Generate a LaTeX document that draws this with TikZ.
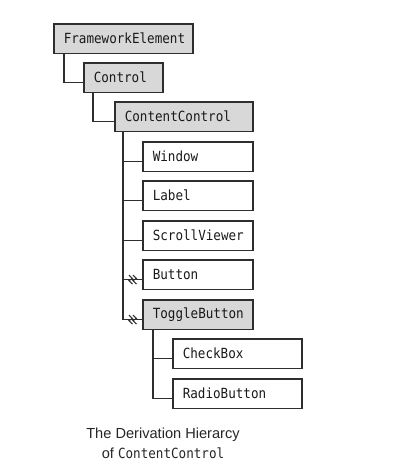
\documentclass[tikz,border=0pt]{standalone}
\usepackage{fontspec}
\setmainfont{Liberation Sans}
\newfontfamily\boxmono{DejaVu Sans Mono}[FakeStretch=0.9]
\definecolor{boxfill}{HTML}{D8D8D8}
\definecolor{linec}{HTML}{2E2E2E}
\begin{document}
\begin{tikzpicture}[x=1pt,y=-1pt,
  cls/.style={draw=linec, line width=1.6pt, rectangle, anchor=north west,
    inner xsep=10pt, inner ysep=0pt, align=left, minimum height=#1,
    font=\boxmono\fontsize{14}{16}\selectfont, text=black!90},
  cls/.default=29.5pt,
  gfill/.style={fill=boxfill},
  conn/.style={draw=linec, line width=1.5pt},
  brk/.style={draw=linec, line width=1.1pt}]
\useasboundingbox (0,0) rectangle (404,471);
% boxes
\node[cls, gfill, text width=119pt] (fe)   at (53,23)  {FrameworkElement};
\node[cls, gfill, text width=59pt]  (ctrl) at (83,62)  {Control};
\node[cls, gfill, text width=118pt] (cc)   at (114,101) {ContentControl};
\node[cls, text width=90pt]  (win)  at (142,141) {Window};
\node[cls, text width=90pt]  (lab)  at (142,180) {Label};
\node[cls, text width=90pt]  (scr)  at (142,220) {ScrollViewer};
\node[cls, text width=90pt]  (btn)  at (142,259) {Button};
\node[cls, gfill, text width=90pt] (tog) at (142,299) {ToggleButton};
\node[cls, text width=109pt] (chk)  at (172,338) {CheckBox};
\node[cls, text width=109pt] (rad)  at (172,378) {RadioButton};
% connector points
\coordinate (ctrlc) at ([yshift=-5pt]ctrl.west);
\coordinate (ccc)   at ([yshift=-5pt]cc.west);
\coordinate (winc)  at ([yshift=-5pt]win.west);
\coordinate (labc)  at ([yshift=-5pt]lab.west);
\coordinate (scrc)  at ([yshift=-5pt]scr.west);
\coordinate (btnc)  at ([yshift=-5pt]btn.west);
\coordinate (togc)  at ([yshift=-5pt]tog.west);
\coordinate (chkc)  at ([yshift=-5pt]chk.west);
\coordinate (radc)  at ([yshift=-5pt]rad.west);
\coordinate (t0) at ([xshift=11pt]fe.south west);
\coordinate (t1) at ([xshift=10pt]ctrl.south west);
\coordinate (t2) at ([xshift=9pt]cc.south west);
\coordinate (t3) at ([xshift=11pt]tog.south west);
% connectors
\draw[conn] (t0) |- (ctrlc);
\draw[conn] (t1) |- (ccc);
\draw[conn] (t2) |- (togc);
\draw[conn] (t2 |- winc) -- (winc);
\draw[conn] (t2 |- labc) -- (labc);
\draw[conn] (t2 |- scrc) -- (scrc);
\draw[conn] (t2 |- btnc) -- (btnc);
\draw[conn] (t3) |- (radc);
\draw[conn] (t3 |- chkc) -- (chkc);
% break markers
\foreach \c in {btnc,togc}{
  \foreach \dx in {-13,-9}{
    \draw[brk] ([shift={(\dx,-4.5)}]\c) -- ++(3.5,3.5) -- ++(-3.5,2) -- ++(3.5,3.5);
  }
}
% caption
\node[align=center, font=\fontsize{14.6}{20}\selectfont, text=black!85] (cap) at (163,443)
  {The Derivation Hierarcy\\ of {\boxmono\fontsize{14}{16}\selectfont ContentControl}};
\end{tikzpicture}
\end{document}
